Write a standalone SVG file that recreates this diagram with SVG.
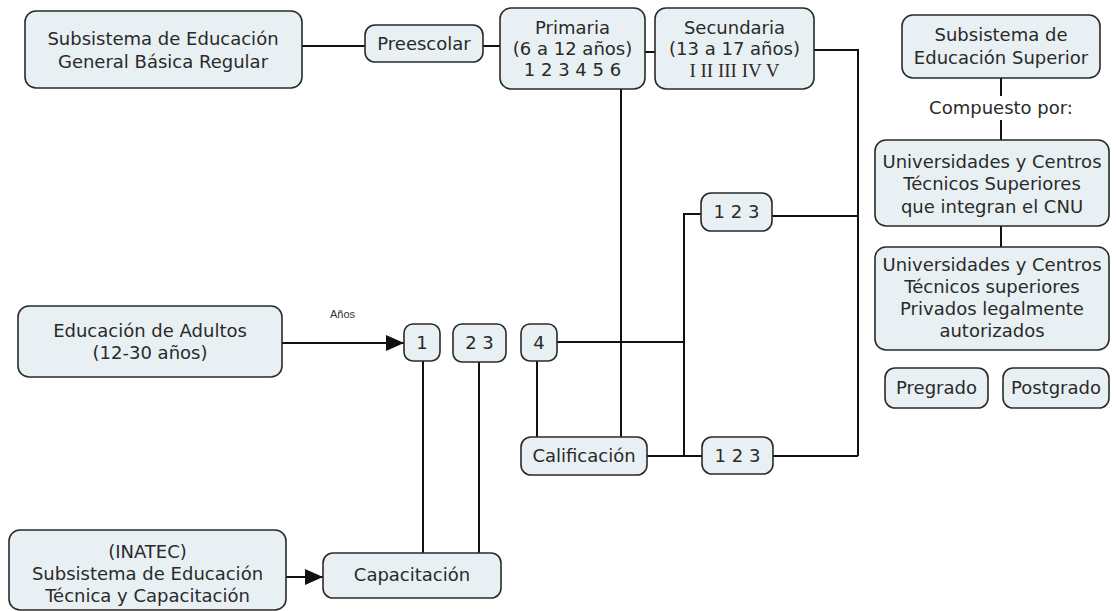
<svg xmlns="http://www.w3.org/2000/svg" width="1116" height="611" viewBox="0 0 1116 611">
<defs>
<style>
.n{fill:#e9f0f3;stroke:#2a2a2a;stroke-width:1.6}
.t{font-family:"DejaVu Sans",Verdana,sans-serif;font-size:18px;fill:#2a2a2a;text-anchor:middle}
.s{font-family:"Liberation Serif",serif;font-size:19px;fill:#2a2a2a;text-anchor:middle}
.c{stroke:#111;stroke-width:2;fill:none}
.l{font-family:"Liberation Sans",Arial,sans-serif;font-size:11px;fill:#333}
</style>
<marker id="ah2" viewBox="0 0 10 10" refX="10" refY="5" markerWidth="18" markerHeight="16" markerUnits="userSpaceOnUse" orient="auto" preserveAspectRatio="none">
<path d="M0,0 L10,5 L0,10 z" fill="#111"/>
</marker>
</defs>
<rect width="1116" height="611" fill="#fff"/>
<g id="connectors">
<path class="c" d="M302,46 H365"/>
<path class="c" d="M483,46 H500"/>
<path class="c" d="M645,52 H655"/>
<path class="c" d="M814,50 H858 V456"/>
<path class="c" d="M772,216 H858"/>
<path class="c" d="M773,456 H858"/>
<path class="c" d="M701,214 H684 V456"/>
<path class="c" d="M557,342 H684"/>
<path class="c" d="M647,456 H702"/>
<path class="c" d="M621,89 V437"/>
<path class="c" d="M537,361 V437"/>
<path class="c" d="M423,361 V553"/>
<path class="c" d="M479,361 V553"/>
<path class="c" d="M1001,78 V96"/>
<path class="c" d="M1001,120 V140"/>
<path class="c" d="M1001,226 V247"/>
<path class="c" d="M282,343 H404" marker-end="url(#ah2)"/>
<path class="c" d="M286,577 H323" marker-end="url(#ah2)"/>
<text class="l" x="330" y="318">Años</text>
<text class="t" x="1001" y="114">Compuesto por:</text>
</g>
<g id="gbr"><rect class="n" x="25" y="11" width="277" height="77" rx="11"/><text class="t" x="163" y="45">Subsistema de Educación</text><text class="t" x="163" y="68">General Básica Regular</text></g>
<g id="preescolar"><rect class="n" x="365" y="25" width="118" height="37" rx="10"/><text class="t" x="424" y="50">Preescolar</text></g>
<g id="primaria"><rect class="n" x="500" y="8" width="145" height="81" rx="11"/><text class="t" x="572.5" y="34">Primaria</text><text class="t" x="572.5" y="55">(6 a 12 años)</text><text class="t" x="572.5" y="76">1 2 3 4 5 6</text></g>
<g id="secundaria"><rect class="n" x="655" y="8" width="159" height="81" rx="11"/><text class="t" x="734.5" y="34">Secundaria</text><text class="t" x="734.5" y="55">(13 a 17 años)</text><text class="s" x="734.5" y="77">I II III IV V</text></g>
<g id="superior"><rect class="n" x="902" y="15" width="198" height="63" rx="11"/><text class="t" x="1001" y="41">Subsistema de</text><text class="t" x="1001" y="64">Educación Superior</text></g>
<g id="cnu"><rect class="n" x="875" y="140" width="234" height="86" rx="11"/><text class="t" x="992" y="168">Universidades y Centros</text><text class="t" x="992" y="190">Técnicos Superiores</text><text class="t" x="992" y="213">que integran el CNU</text></g>
<g id="privados"><rect class="n" x="875" y="247" width="234" height="103" rx="11"/><text class="t" x="992" y="271">Universidades y Centros</text><text class="t" x="992" y="293">Técnicos superiores</text><text class="t" x="992" y="315">Privados legalmente</text><text class="t" x="992" y="337">autorizados</text></g>
<g id="pregrado"><rect class="n" x="885" y="368" width="103" height="40" rx="10"/><text class="t" x="936.5" y="394">Pregrado</text></g>
<g id="postgrado"><rect class="n" x="1003" y="368" width="106" height="40" rx="10"/><text class="t" x="1056" y="394">Postgrado</text></g>
<g id="sec123a"><rect class="n" x="701" y="193" width="71" height="38" rx="10"/><text class="t" x="736.5" y="218">1 2 3</text></g>
<g id="sec123b"><rect class="n" x="702" y="437" width="71" height="37" rx="10"/><text class="t" x="737.5" y="462">1 2 3</text></g>
<g id="calificacion"><rect class="n" x="521" y="437" width="126" height="38" rx="10"/><text class="t" x="584" y="462">Calificación</text></g>
<g id="a1"><rect class="n" x="404" y="324" width="36" height="37" rx="9"/><text class="t" x="422" y="349">1</text></g>
<g id="a23"><rect class="n" x="453" y="324" width="53" height="38" rx="9"/><text class="t" x="479.5" y="349">2 3</text></g>
<g id="a4"><rect class="n" x="521" y="324" width="36" height="37" rx="9"/><text class="t" x="539" y="349">4</text></g>
<g id="adultos"><rect class="n" x="18" y="306" width="264" height="71" rx="11"/><text class="t" x="150" y="337">Educación de Adultos</text><text class="t" x="150" y="359">(12-30 años)</text></g>
<g id="inatec"><rect class="n" x="9" y="530" width="277" height="80" rx="11"/><text class="t" x="147.5" y="558">(INATEC)</text><text class="t" x="147.5" y="580">Subsistema de Educación</text><text class="t" x="147.5" y="602">Técnica y Capacitación</text></g>
<g id="capacitacion"><rect class="n" x="323" y="553" width="178" height="45" rx="10"/><text class="t" x="412" y="581">Capacitación</text></g>
</svg>
